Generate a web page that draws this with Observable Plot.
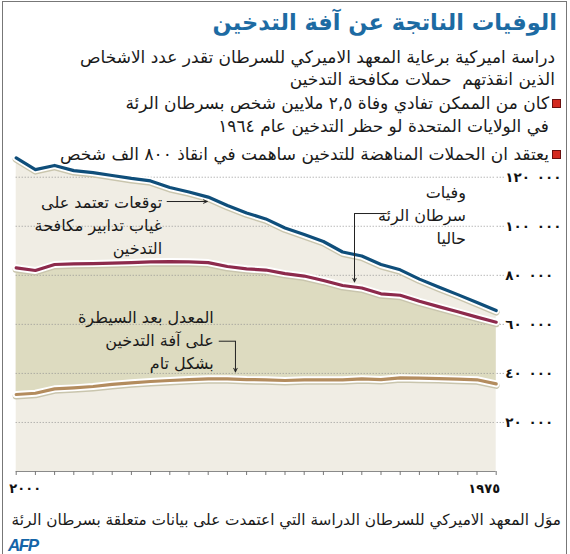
<!DOCTYPE html>
<html>
<head>
<meta charset="utf-8">
<script src="https://cdn.jsdelivr.net/npm/d3@7"></script>
<script src="https://cdn.jsdelivr.net/npm/@observablehq/plot@0.6"></script>
<style>
  html, body { margin: 0; padding: 0; background: #fff; }
  #wrap { position: relative; width: 570px; height: 554px; overflow: hidden; font-family: "DejaVu Sans", sans-serif; }
  #frame { position: absolute; left: 2px; top: 1px; width: 563px; height: 560px; border: 1px solid #777; }
  .ln { position: absolute; white-space: pre; direction: rtl; text-align: right; }
  .title { right: 13px; top: 7px; font-size: 22.5px; line-height: 30px; font-weight: bold; color: #1d6ba3; }
  .sub { right: 15px; font-size: 17px; line-height: 22px; color: #1a1a1a; }
  .bul { right: 21px; font-size: 17px; line-height: 22px; color: #1a1a1a; }
  .sq { position: absolute; width: 7px; height: 7px; background: #d42a20; border: 1px solid #6a1010; }
  #chart { position: absolute; left: 0; top: 150px; }
  .cap { right: 9px; top: 509px; font-size: 15.3px; line-height: 22px; color: #1a1a1a; }
  .afp { position: absolute; left: 8px; top: 536px; font-family: "Liberation Sans", sans-serif; font-weight: bold; font-style: italic; font-size: 17px; letter-spacing: -1.5px; color: #1565a8; }
  #chart g[aria-label="y-axis tick label"] text { letter-spacing: 2.3px; }
</style>
</head>
<body>
<div id="wrap">
  <div id="frame"></div>
  <div class="ln title" id="t"></div>
  <div class="ln sub" id="s1" style="top:46px"></div>
  <div class="ln sub" id="s2" style="top:68px"></div>
  <div class="sq" style="left:552px;top:99px"></div>
  <div class="ln bul" id="b1" style="top:92px"></div>
  <div class="ln bul" id="b2" style="top:115px"></div>
  <div class="sq" style="left:552px;top:150px"></div>
  <div class="ln bul" id="b3" style="top:143px"></div>
  <div id="chart"></div>
  <div class="ln cap" id="cap"></div>
  <div class="afp">AFP</div>
</div>
<script>
// ---- texts ----
const titleText = "الوفيات الناتجة عن آفة التدخين";
const subtitleLines = [
  "دراسة اميركية برعاية المعهد الاميركي للسرطان تقدر عدد الاشخاص",
  "الذين انقذتهم  حملات مكافحة التدخين"
];
const bulletLines = [
  "كان من الممكن تفادي وفاة ٢,٥ ملايين شخص بسرطان الرئة",
  "في الولايات المتحدة لو حظر التدخين عام ١٩٦٤",
  "يعتقد ان الحملات المناهضة للتدخين ساهمت في انقاذ ٨٠٠ الف شخص"
];
const captionText = "موَل المعهد الاميركي للسرطان الدراسة التي اعتمدت على بيانات متعلقة بسرطان الرئة";

// ---- data ----
const years = [2000,1999,1998,1997,1996,1995,1994,1993,1992,1991,1990,1989,1988,1987,1986,1985,1984,1983,1982,1981,1980,1979,1978,1977,1976,1975];
const projectedNoControl = [127900,123100,124800,122700,121900,120700,119500,118500,115800,114000,111900,108500,105400,103000,99300,96600,93800,89500,87870,84400,82240,78450,75270,72130,68950,65650];
const currentDeaths = [83060,81960,84400,84690,84800,85000,85200,85500,85600,85500,85200,83600,82650,82150,80700,79700,77900,75850,74830,72470,71860,69400,67240,65120,62960,60880];
const fullControlRate = [31400,31900,33700,34100,34650,35500,36150,36700,37100,37500,37800,37800,37500,37400,37100,37400,37400,37400,37800,37500,38200,38050,37900,37650,37400,35750];

const yTicks = [20000,40000,60000,80000,100000,120000];
const yTickLabels = ["٢٠ ٠٠٠","٤٠ ٠٠٠","٦٠ ٠٠٠","٨٠ ٠٠٠","١٠٠ ٠٠٠","١٢٠ ٠٠٠"];
const xLabelYears = [2000, 1975];
const xTickLabels = ["٢٠٠٠", "١٩٧٥"];

const annotationTexts = [
  "توقعات تعتمد على\nغياب تدابير مكافحة\nالتدخين",
  "وفيات\nسرطان الرئة\nحاليا",
  "المعدل بعد السيطرة\nعلى آفة التدخين\nبشكل تام"
];

// ---- header ----
document.getElementById("t").textContent = titleText;
document.getElementById("s1").textContent = subtitleLines[0];
document.getElementById("s2").textContent = subtitleLines[1];
document.getElementById("b1").textContent = bulletLines[0];
document.getElementById("b2").textContent = bulletLines[1];
document.getElementById("b3").textContent = bulletLines[2];
document.getElementById("cap").textContent = captionText;

// ---- chart ----
const rows = years.map((year, i) => ({
  year,
  noControl: projectedNoControl[i],
  current: currentDeaths[i],
  full: fullControlRate[i]
}));

const lightFill = "#f0ede4";
const oliveFill = "#dddbc0";
const blue = "#0f4e7a";
const purple = "#8d2a4c";
const brown = "#b38c5e";

function haloLine(key, color) {
  return [
    Plot.line(rows, {x: "year", y: key, stroke: "#c9c5ad", strokeWidth: 7, dy: 1.5}),
    Plot.line(rows, {x: "year", y: key, stroke: "#ffffff", strokeWidth: 7}),
    Plot.line(rows, {x: "year", y: key, stroke: color, strokeWidth: 3.2})
  ];
}

// keep the two digit groups in reading order (left-to-right) with LRM marks
const yLabelMap = new Map(yTicks.map((d, i) => [d, yTickLabels[i].replace(" ", "\u200E\u2002\u200E")]));

const notes = [
  {x: 1992.4, y: 101100, text: annotationTexts[0]},
  {x: 1976.58, y: 105070, text: annotationTexts[1]},
  {x: 1989.71, y: 54110, text: annotationTexts[2]}
];
const leaderLinks = [
  {x1: 1980.7, y1: 105200, x2: 1982.38, y2: 105200},
  {x1: 1989.45, y1: 53130, x2: 1988.58, y2: 53130}
];
const leaderArrows = [
  {x1: 1992.14, y1: 110090, x2: 1990.05, y2: 110090},
  {x1: 1982.38, y1: 105200, x2: 1982.38, y2: 77300},
  {x1: 1988.58, y1: 53130, x2: 1988.58, y2: 40600}
];

const chart = Plot.plot({
  width: 570,
  height: 350,
  marginTop: 2.2,
  marginBottom: 29,
  marginLeft: 15.7,
  marginRight: 74.3,
  x: {domain: [2000, 1975], label: null},
  y: {domain: [0, 130000], label: null},
  style: {fontFamily: "DejaVu Sans, sans-serif", background: "transparent", overflow: "visible"},
  marks: [
    Plot.areaY(rows, {x: "year", y1: 0, y2: "noControl", fill: lightFill}),
    Plot.areaY(rows, {x: "year", y1: "full", y2: "current", fill: oliveFill}),
    Plot.gridY(yTicks, {stroke: "#8f8f8f", strokeOpacity: 0.9, strokeDasharray: "1,2"}),
    Plot.axisY({ticks: yTicks, anchor: "right", tickSize: 7, tickPadding: 2, stroke: "#8f8f8f", strokeDasharray: "1,2",
      tickFormat: d => yLabelMap.get(d), fontSize: 13.5, fontWeight: "bold", fill: "#111", label: null}),
    Plot.ruleY([0], {stroke: "#8a8a8a"}),
    Plot.axisX({ticks: years, tickSize: 4, stroke: "#777", tickFormat: () => "", label: null}),
    Plot.axisX({ticks: [xLabelYears[0]], tickSize: 0, tickPadding: 12, dx: 9, tickFormat: () => xTickLabels[0],
      fontSize: 13, fontWeight: "bold", fill: "#111", label: null}),
    Plot.axisX({ticks: [xLabelYears[1]], tickSize: 0, tickPadding: 12, dx: -12, tickFormat: () => xTickLabels[1],
      fontSize: 13, fontWeight: "bold", fill: "#111", label: null}),
    ...haloLine("full", brown),
    ...haloLine("current", purple),
    ...haloLine("noControl", blue),
    Plot.text(notes, {x: "x", y: "y", text: "text", textAnchor: "end", lineAnchor: "middle", lineHeight: 1.43,
      fontSize: 16, fill: "#1a1a1a"}),
    Plot.link(leaderLinks, {x1: "x1", y1: "y1", x2: "x2", y2: "y2", stroke: "#222", strokeWidth: 1}),
    Plot.arrow(leaderArrows, {x1: "x1", y1: "y1", x2: "x2", y2: "y2", stroke: "#222", strokeWidth: 1, headLength: 6, headAngle: 50})
  ]
});
document.getElementById("chart").appendChild(chart);
</script>
</body>
</html>
